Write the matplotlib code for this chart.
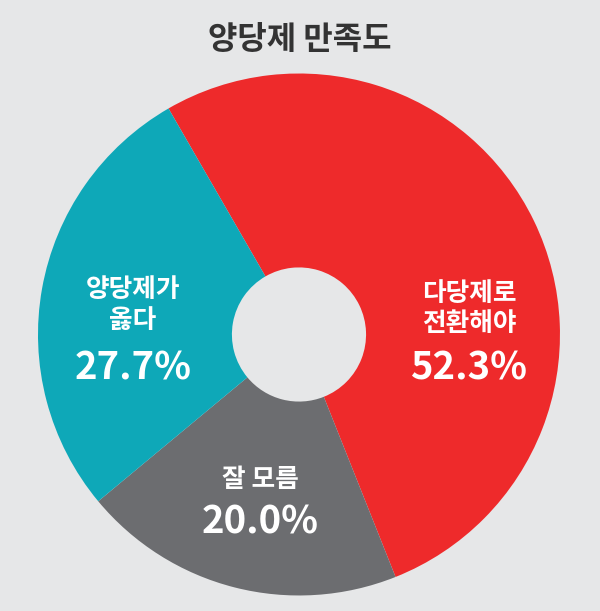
import matplotlib.pyplot as plt

plt.rcParams['font.family'] = ['Noto Sans CJK KR', 'DejaVu Sans']

# survey result: satisfaction with the two-party system
labels = ['다당제로\n전환해야', '잘 모름', '양당제가\n옳다']
values = [52.3, 20.0, 27.7]
colors = ['#ee2a2b', '#6c6d70', '#0ea8b8']

# hand-placed label spots (name line centre, percent centre) in data units
name_xy = [(0.651, 0.098), (-0.149, -0.554), (-0.636, 0.113)]
pct_xy = [(0.651, -0.128), (-0.149, -0.718), (-0.636, -0.128)]

bg = '#e6e7e8'
fig = plt.figure(figsize=(6, 6.11), dpi=100, facecolor=bg)
ax = fig.add_axes([0.0633, 0.0254, 0.87, 0.8543])
ax.set_facecolor(bg)

ax.pie(values, colors=colors, startangle=120, counterclock=False,
       radius=1, wedgeprops=dict(width=0.743, linewidth=0))

for lab, v, (nx, ny), (px, py) in zip(labels, values, name_xy, pct_xy):
    ax.text(nx, ny, lab, ha='center', va='center', color='white',
            fontsize=18.5, fontweight='bold', linespacing=1.15)
    ax.text(px, py, f'{v:.1f}%', ha='center', va='center', color='white',
            fontsize=27.5, fontweight='bold')

ax.set_xlim(-1, 1)
ax.set_ylim(-1, 1)
ax.set_aspect('equal')
ax.axis('off')

fig.text(0.5, 1 - 40 / 611, '양당제 만족도', ha='center', va='center',
         fontsize=23, fontweight='bold', color='#333333')

fig.savefig('out.png', dpi=100, facecolor=bg)
